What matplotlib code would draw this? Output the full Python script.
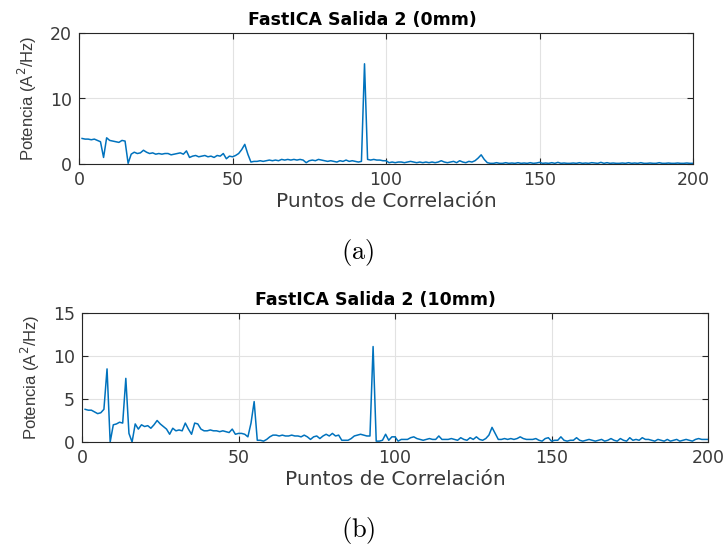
import numpy as np
import matplotlib
matplotlib.use('Agg')
import matplotlib.pyplot as plt

# puntos de correlacion 1..200
x = np.arange(1, 201)

# FastICA salida 2, 0mm
p0 = [3.9, 3.8, 3.8, 3.7, 3.8, 3.6, 3.4, 1.0, 4.0, 3.6,
      3.5, 3.4, 3.3, 3.6, 3.5, 0.1, 1.5, 1.8, 1.6, 1.7,
      2.1, 1.8, 1.6, 1.7, 1.5, 1.6, 1.5, 1.6, 1.6, 1.4,
      1.5, 1.6, 1.7, 1.5, 2.0, 1.0, 1.2, 1.3, 1.1, 1.2,
      1.3, 1.1, 1.2, 1.0, 1.3, 1.2, 1.6, 0.8, 1.2, 1.1,
      1.3, 1.6, 2.2, 3.0, 1.5, 0.3, 0.4, 0.4, 0.5, 0.4,
      0.5, 0.6, 0.5, 0.6, 0.5, 0.7, 0.6, 0.7, 0.6, 0.7,
      0.6, 0.7, 0.6, 0.2, 0.5, 0.6, 0.5, 0.7, 0.6, 0.5,
      0.4, 0.5, 0.4, 0.3, 0.5, 0.4, 0.6, 0.4, 0.5, 0.4,
      0.3, 0.4, 15.3, 0.7, 0.6, 0.7, 0.6, 0.6, 0.5, 0.5,
      0.2, 0.3, 0.2, 0.3, 0.3, 0.2, 0.3, 0.4, 0.3, 0.2,
      0.3, 0.2, 0.3, 0.2, 0.3, 0.2, 0.3, 0.5, 0.3, 0.2,
      0.3, 0.4, 0.2, 0.5, 0.3, 0.2, 0.4, 0.3, 0.5, 0.9,
      1.4, 0.7, 0.2, 0.1, 0.1, 0.2, 0.1, 0.1, 0.2, 0.1,
      0.15, 0.1, 0.2, 0.1, 0.15, 0.1, 0.2, 0.1, 0.15, 0.25,
      0.1, 0.15, 0.1, 0.2, 0.1, 0.25, 0.1, 0.15, 0.1, 0.1,
      0.15, 0.1, 0.2, 0.1, 0.15, 0.1, 0.2, 0.15, 0.1, 0.25,
      0.1, 0.2, 0.1, 0.15, 0.1, 0.1, 0.15, 0.1, 0.2, 0.1,
      0.15, 0.1, 0.2, 0.1, 0.1, 0.15, 0.1, 0.1, 0.2, 0.1,
      0.1, 0.15, 0.1, 0.1, 0.15, 0.1, 0.1, 0.15, 0.1, 0.1]

# FastICA salida 2, 10mm
p10 = [3.8, 3.7, 3.7, 3.5, 3.3, 3.4, 3.8, 8.5, 0.0, 2.0,
       2.1, 2.3, 2.2, 7.4, 1.0, 0.0, 2.1, 1.5, 2.0, 1.8,
       1.9, 1.6, 2.0, 2.5, 2.1, 1.8, 1.5, 0.9, 1.6, 1.3,
       1.4, 1.3, 2.2, 1.5, 0.9, 2.2, 2.1, 1.5, 1.3, 1.3,
       1.4, 1.3, 1.3, 1.2, 1.3, 1.2, 1.1, 1.5, 0.9, 1.0,
       1.0, 0.9, 0.6, 2.2, 4.7, 0.2, 0.2, 0.1, 0.3, 0.6,
       0.8, 0.8, 0.7, 0.8, 0.7, 0.7, 0.8, 0.7, 0.7, 0.6,
       0.8, 0.6, 0.3, 0.6, 0.7, 0.4, 0.7, 0.9, 0.7, 1.0,
       0.7, 0.8, 0.2, 0.2, 0.2, 0.4, 0.7, 0.8, 0.9, 0.8,
       0.7, 0.7, 11.1, 0.1, 0.1, 0.2, 0.9, 0.2, 0.6, 0.6,
       0.1, 0.3, 0.3, 0.3, 0.5, 0.6, 0.4, 0.3, 0.2, 0.3,
       0.4, 0.3, 0.3, 0.7, 0.3, 0.3, 0.3, 0.4, 0.3, 0.2,
       0.5, 0.3, 0.2, 0.5, 0.3, 0.6, 0.3, 0.2, 0.4, 0.8,
       1.7, 1.0, 0.3, 0.3, 0.4, 0.3, 0.4, 0.3, 0.4, 0.6,
       0.4, 0.3, 0.3, 0.3, 0.4, 0.2, 0.1, 0.4, 0.5, 0.1,
       0.2, 0.2, 0.6, 0.2, 0.1, 0.2, 0.2, 0.5, 0.2, 0.1,
       0.2, 0.3, 0.2, 0.1, 0.2, 0.3, 0.1, 0.2, 0.4, 0.2,
       0.1, 0.4, 0.2, 0.1, 0.5, 0.2, 0.3, 0.2, 0.5, 0.3,
       0.3, 0.2, 0.1, 0.3, 0.2, 0.1, 0.3, 0.1, 0.2, 0.3,
       0.1, 0.2, 0.3, 0.2, 0.1, 0.3, 0.4, 0.3, 0.3, 0.3]

titles = ['FastICA Salida 2 (0mm)', 'FastICA Salida 2 (10mm)']
yticks = [[0, 10, 20], [0, 5, 10, 15]]
captions = ['(a)', '(b)']

blue = '#0072BD'
dark = '#262626'

fig = plt.figure(figsize=(7.27, 5.5), dpi=100)
W, H = 727., 550.
# left, top, right, bottom in pixels
boxes = [(79, 33, 693, 164), (82, 313, 708, 442)]
cap_y = [253, 530]
title_x = [0.462, 0.468]

for k, (series, (l, t, r, b)) in enumerate(zip([p0, p10], boxes)):
    ax = fig.add_axes([l/W, 1-b/H, (r-l)/W, (b-t)/H])
    ax.plot(x, series, color=blue, lw=1.1)
    ax.set_xlim(0, 200)
    ax.set_ylim(yticks[k][0], yticks[k][-1])
    ax.set_xticks([0, 50, 100, 150, 200])
    ax.set_yticks(yticks[k])
    ax.grid(True, color='#E2E2E2', lw=0.8)
    ax.set_axisbelow(True)
    for s in ax.spines.values():
        s.set_color(dark); s.set_linewidth(0.8)
    ax.tick_params(direction='in', top=True, right=True, length=4, width=0.8,
                   colors=dark, labelsize=12.5, pad=5)
    for lb in ax.get_xticklabels() + ax.get_yticklabels():
        lb.set_color('#3a3a3a')
    ax.set_title(titles[k], fontsize=12.5, fontweight='bold', color='black', pad=6,
                 x=title_x[k])
    ax.set_xlabel('Puntos de Correlación', fontsize=14.5, color='#3a3a3a', labelpad=2)
    ax.set_ylabel('Potencia (A$^2$/Hz)', fontsize=12, color='#3a3a3a',
                  fontfamily='Liberation Sans', labelpad=8)
    fig.text(358/W, 1-cap_y[k]/H, r'$\mathrm{' + captions[k] + '}$', fontsize=19,
             math_fontfamily='cm', ha='center', va='center')

fig.savefig('out.png', dpi=100, facecolor='white')
